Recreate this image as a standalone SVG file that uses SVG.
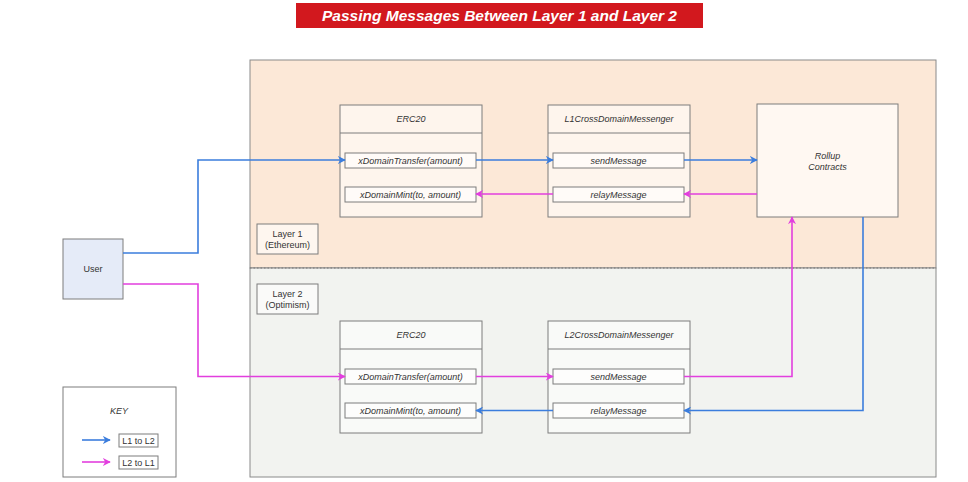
<svg xmlns="http://www.w3.org/2000/svg" width="968" height="482" viewBox="0 0 968 482">
<defs>
<style>
text{font-family:"Liberation Sans",Arial,sans-serif;fill:#333;text-anchor:middle}
.it{font-style:italic}
.sm{font-size:9px}
.box{fill:#ffffff;fill-opacity:0.55;stroke:#7d7d7d;stroke-width:1}
.m{fill:#ffffff;fill-opacity:0.6;stroke:#7d7d7d;stroke-width:1}
.b{fill:none;stroke:#3b7ddd;stroke-width:1.6}
.p{fill:none;stroke:#e23fde;stroke-width:1.6}
</style>
<marker id="ab" viewBox="0 0 10 10" refX="9" refY="5" markerWidth="5" markerHeight="5" orient="auto"><path d="M0,0 L10,5 L0,10 L3,5 Z" fill="#3b7ddd"/></marker>
<marker id="ap" viewBox="0 0 10 10" refX="9" refY="5" markerWidth="5" markerHeight="5" orient="auto"><path d="M0,0 L10,5 L0,10 L3,5 Z" fill="#e23fde"/></marker>
</defs>
<rect width="968" height="482" fill="#ffffff"/>

<g id="title">
<rect x="296" y="3" width="407" height="25" fill="#d2181e"/>
<text x="499.5" y="21" style="fill:#fff;font-weight:bold;font-style:italic;font-size:15.5px">Passing Messages Between Layer 1 and Layer 2</text>
</g>

<g id="layer1">
<rect x="250" y="60" width="686" height="208" fill="#fce8d7" stroke="#8a8a8a" stroke-width="1"/>
</g>
<g id="layer2">
<rect x="250" y="268" width="686" height="209" fill="#f2f3f0" stroke="#8a8a8a" stroke-width="1"/>
<line x1="250" y1="268" x2="936" y2="268" stroke="#777" stroke-width="1" stroke-dasharray="1.5,2"/>
</g>

<g id="layer1-label">
<rect x="257" y="224" width="61" height="30" class="m"/>
<text x="287.5" y="237" class="sm">Layer 1</text>
<text x="287.5" y="248" class="sm">(Ethereum)</text>
</g>
<g id="layer2-label">
<rect x="257" y="284" width="61" height="30" class="m"/>
<text x="287.5" y="297" class="sm">Layer 2</text>
<text x="287.5" y="308" class="sm">(Optimism)</text>
</g>

<g id="user">
<rect x="63" y="239" width="60" height="60" fill="#e5ebf8" stroke="#7d7d7d"/>
<text x="93" y="272" class="sm">User</text>
</g>

<g id="erc20-l1">
<rect x="340" y="105" width="142" height="112" class="box"/>
<line x1="340" y1="133" x2="482" y2="133" stroke="#7d7d7d"/>
<text x="411" y="122" class="sm it">ERC20</text>
<rect x="345" y="153" width="131" height="15" class="m"/>
<text x="410.5" y="163.5" class="sm it">xDomainTransfer(amount)</text>
<rect x="345" y="187" width="131" height="15" class="m"/>
<text x="410.5" y="197.5" class="sm it">xDomainMint(to, amount)</text>
</g>

<g id="l1cdm">
<rect x="548" y="105" width="142" height="112" class="box"/>
<line x1="548" y1="133" x2="690" y2="133" stroke="#7d7d7d"/>
<text x="619" y="122" class="sm it">L1CrossDomainMessenger</text>
<rect x="553" y="153" width="131" height="15" class="m"/>
<text x="618.5" y="163.5" class="sm it">sendMessage</text>
<rect x="553" y="187" width="131" height="15" class="m"/>
<text x="618.5" y="197.5" class="sm it">relayMessage</text>
</g>

<g id="rollup">
<rect x="757" y="104" width="141" height="113" fill="#fff8f2" stroke="#7d7d7d"/>
<text x="827.5" y="159" class="sm it">Rollup</text>
<text x="827.5" y="170" class="sm it">Contracts</text>
</g>

<g id="erc20-l2">
<rect x="340" y="321" width="142" height="112" class="box"/>
<line x1="340" y1="349" x2="482" y2="349" stroke="#7d7d7d"/>
<text x="411" y="338" class="sm it">ERC20</text>
<rect x="345" y="369" width="131" height="15" class="m"/>
<text x="410.5" y="379.5" class="sm it">xDomainTransfer(amount)</text>
<rect x="345" y="403" width="131" height="15" class="m"/>
<text x="410.5" y="413.5" class="sm it">xDomainMint(to, amount)</text>
</g>

<g id="l2cdm">
<rect x="548" y="321" width="142" height="112" class="box"/>
<line x1="548" y1="349" x2="690" y2="349" stroke="#7d7d7d"/>
<text x="619" y="338" class="sm it">L2CrossDomainMessenger</text>
<rect x="553" y="369" width="131" height="15" class="m"/>
<text x="618.5" y="379.5" class="sm it">sendMessage</text>
<rect x="553" y="403" width="131" height="15" class="m"/>
<text x="618.5" y="413.5" class="sm it">relayMessage</text>
</g>

<g id="key">
<rect x="63" y="387" width="113" height="90" fill="#ffffff" stroke="#7d7d7d"/>
<text x="119" y="414" class="sm it">KEY</text>
<line x1="82" y1="440" x2="110" y2="440" class="b" marker-end="url(#ab)"/>
<rect x="119" y="434" width="39" height="13" fill="#fff" stroke="#7d7d7d"/>
<text x="138.5" y="443.5" class="sm">L1 to L2</text>
<line x1="82" y1="462" x2="110" y2="462" class="p" marker-end="url(#ap)"/>
<rect x="119" y="456" width="39" height="13" fill="#fff" stroke="#7d7d7d"/>
<text x="138.5" y="465.5" class="sm">L2 to L1</text>
</g>

<g id="connectors">
<path d="M123,253 H198 V160 H345" class="b" marker-end="url(#ab)"/>
<path d="M476,160 H553" class="b" marker-end="url(#ab)"/>
<path d="M684,160 H757" class="b" marker-end="url(#ab)"/>
<path d="M757,194 H684" class="p" marker-end="url(#ap)"/>
<path d="M553,194 H476" class="p" marker-end="url(#ap)"/>
<path d="M123,284 H198 V376.5 H345" class="p" marker-end="url(#ap)"/>
<path d="M476,376.5 H553" class="p" marker-end="url(#ap)"/>
<path d="M684,376.5 H792 V217" class="p" marker-end="url(#ap)"/>
<path d="M863,217 V410.5 H684" class="b" marker-end="url(#ab)"/>
<path d="M553,410.5 H476" class="b" marker-end="url(#ab)"/>
</g>
</svg>
